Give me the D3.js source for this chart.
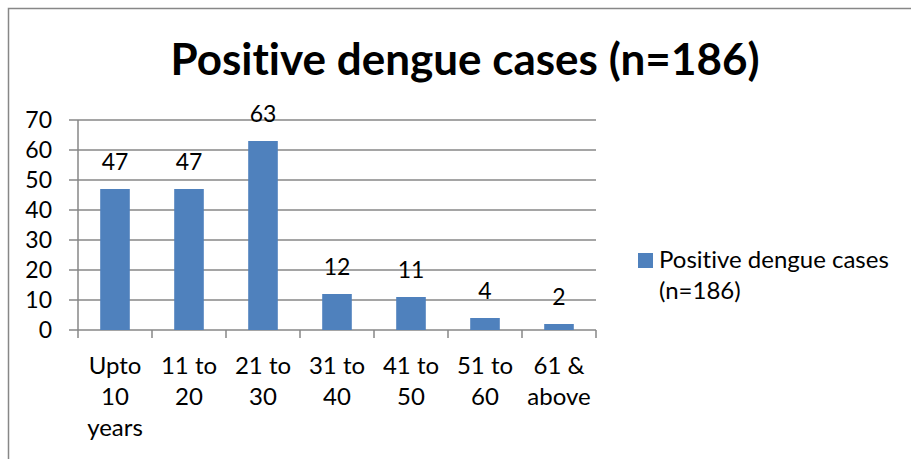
<!DOCTYPE html>
<html><head><meta charset="utf-8">
<script src="https://cdn.jsdelivr.net/npm/d3@7"></script>
<style>body{margin:0;background:#fff}svg{display:block}text{font-family:Lato,"Open Sans",sans-serif;fill:#000;font-variant-ligatures:none}</style>
</head><body>
<svg id="c" width="911" height="459"></svg>
<script>
const categories = [["Upto","10","years"],["11 to","20"],["21 to","30"],["31 to","40"],["41 to","50"],["51 to","60"],["61 &","above"]];
const values = [47,47,63,12,11,4,2];
const yTicks = [0,10,20,30,40,50,60,70];
const title = "Positive dengue cases (n=186)";
const legendLines = ["Positive dengue cases","(n=186)"];

(function(){
const svg = d3.select("#c");
const W=911,H=459;
svg.append("rect").attr("width",W).attr("height",H).attr("fill","#fff");
// outer border (left and top)
svg.append("path").attr("d","M8.5,459 V8.5 H911").attr("fill","none").attr("stroke","#878787").attr("stroke-width",1.5);

const pl=78,pr=596,pt=120,pb=330;
const x=d3.scaleBand().domain(d3.range(categories.length)).range([pl,pr]).paddingInner(0.6).paddingOuter(0.3);
const y=d3.scaleLinear().domain([0,70]).range([pb,pt]);

// gridlines
svg.append("g").selectAll("line").data(yTicks).join("line")
  .attr("x1",pl-9).attr("x2",pr).attr("y1",d=>y(d)).attr("y2",d=>y(d))
  .attr("stroke","#878787").attr("stroke-width",1.5);
// y axis line
svg.append("line").attr("x1",pl).attr("x2",pl).attr("y1",pt).attr("y2",pb).attr("stroke","#878787").attr("stroke-width",1.5);
// y tick labels
svg.append("g").selectAll("text").data(yTicks).join("text")
  .attr("x",pl-26).attr("y",d=>y(d)).attr("dy","0.36em").attr("text-anchor","end")
  .style("font-size","23px").text(d=>d);
// x category ticks
const bounds=d3.range(categories.length+1).map(i=>pl+i*(pr-pl)/categories.length);
svg.append("g").selectAll("line").data(bounds).join("line")
  .attr("x1",d=>d).attr("x2",d=>d).attr("y1",pb).attr("y2",pb+8)
  .attr("stroke","#878787").attr("stroke-width",1.5);

// bars
svg.append("g").selectAll("rect").data(values).join("rect")
  .attr("x",(d,i)=>x(i)).attr("width",x.bandwidth())
  .attr("y",d=>y(d)).attr("height",d=>pb-y(d)).attr("fill","#4F81BD");
// value labels
svg.append("g").selectAll("text").data(values).join("text")
  .attr("x",(d,i)=>x(i)+x.bandwidth()/2).attr("y",d=>y(d)-19).attr("text-anchor","middle")
  .style("font-size","23px").text(d=>d);
// category labels
const cl=svg.append("g").selectAll("text").data(categories).join("text")
  .attr("text-anchor","middle").style("font-size","24px")
  .attr("transform",(d,i)=>`translate(${x(i)+x.bandwidth()/2},374)`);
cl.selectAll("tspan").data(d=>d).join("tspan").attr("x",0).attr("y",(d,j)=>j*31).text(d=>d);

// title
svg.append("text").attr("x",465).attr("y",75).attr("text-anchor","middle")
  .style("font-size","44px").style("font-weight","bold").text(title);

// legend
svg.append("rect").attr("x",638).attr("y",253).attr("width",15).attr("height",15).attr("fill","#4F81BD");
svg.append("g").selectAll("text").data(legendLines).join("text")
  .attr("x",659).attr("y",(d,i)=>268+i*31).style("font-size","24px").text(d=>d);
})();
</script>
</body></html>
